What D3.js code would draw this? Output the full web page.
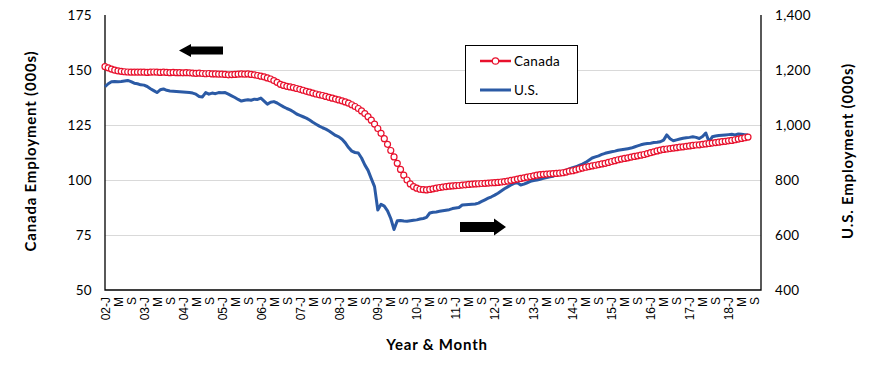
<!DOCTYPE html>
<html lang="en">
<head>
<meta charset="UTF-8">
<title>Canada and U.S. Employment</title>
<script src="https://cdn.jsdelivr.net/npm/d3@7"></script>
<style>
  body { margin: 0; background: #fff; }
  text { font-family: Lato, "Noto Sans", sans-serif; fill: #000; }
</style>
</head>
<body>
<svg id="chart" width="870" height="366"></svg>
<script>
// monthly, Jan 2002 .. Jul 2018
var canada = [
  151.5, 151.0, 150.4, 149.9, 149.6, 149.4, 149.2, 149.1, 149.0, 149.0, 149.0, 149.0,
  149.0, 148.9, 149.0, 149.1, 149.0, 148.9, 149.0, 148.9, 148.8, 148.9, 148.8, 148.8,
  148.7, 148.8, 148.7, 148.6, 148.5, 148.6, 148.4, 148.3, 148.4, 148.2, 148.2, 148.1,
  148.1, 148.0, 147.8, 147.9, 148.0, 148.1, 148.2, 148.1, 148.2, 148.0, 147.8, 147.5,
  147.2, 146.9, 146.4, 145.9, 145.2, 144.4, 143.5, 143.0, 142.6, 142.3, 142.0, 141.6,
  141.2, 140.8, 140.3, 139.9, 139.5, 139.1, 138.7, 138.4, 138.0, 137.6, 137.2, 136.8,
  136.4, 136.0, 135.5, 134.9, 134.2, 133.4, 132.5, 131.4, 130.2, 128.8, 127.2, 125.4,
  123.4, 121.2, 118.8, 116.2, 113.4, 110.5, 107.6, 104.8, 102.2, 100.0, 98.2, 97.0,
  96.3, 95.8, 95.6, 95.5, 95.7, 96.0, 96.3, 96.6, 96.8, 97.0, 97.2, 97.3,
  97.4, 97.5, 97.7, 97.8, 98.0, 98.1, 98.2, 98.3, 98.4, 98.5, 98.6, 98.7,
  98.8, 98.9, 99.1, 99.3, 99.5, 99.8, 100.1, 100.4, 100.7, 101.0, 101.3, 101.6,
  101.9, 102.2, 102.4, 102.6, 102.7, 102.8, 102.9, 103.0, 103.1, 103.3, 103.6, 104.0,
  104.2, 104.6, 105.0, 105.4, 105.8, 106.1, 106.4, 106.7, 107.0, 107.3, 107.6, 108.0,
  108.4, 108.8, 109.2, 109.5, 109.8, 110.1, 110.4, 110.7, 111.0, 111.3, 111.6, 112.0,
  112.4, 112.8, 113.2, 113.6, 113.9, 114.1, 114.3, 114.5, 114.7, 114.9, 115.1, 115.3,
  115.5, 115.7, 115.9, 116.0, 116.2, 116.4, 116.6, 116.8, 117.0, 117.2, 117.4, 117.6,
  117.8, 118.0, 118.3, 118.6, 118.9, 119.2, 119.5
];
var us = [
  1139, 1150, 1157, 1158, 1157, 1158, 1160, 1162, 1158, 1152, 1150, 1146,
  1145, 1140, 1132, 1125, 1118, 1128, 1131, 1126, 1124, 1123, 1122, 1121,
  1120, 1119, 1118, 1116, 1112, 1104, 1102, 1118, 1112, 1116, 1114, 1118,
  1117, 1118, 1112, 1106, 1100, 1093, 1087, 1090, 1092, 1090, 1094, 1093,
  1098, 1087, 1076, 1083, 1085, 1080, 1073, 1066, 1060, 1055, 1048, 1040,
  1035, 1030, 1025, 1018, 1010, 1003, 996, 990, 985, 978, 970, 962,
  957, 948, 935, 918, 905, 900, 898, 880, 855, 835, 805, 776,
  691, 712, 705, 688, 660, 620, 652, 653, 651, 650, 652, 654,
  655, 658, 660, 664, 680, 683, 684, 686, 688, 690, 692, 696,
  698, 700, 709, 710, 711, 712, 713, 716, 722, 728, 734, 739,
  745, 752, 760, 768, 775, 782, 788, 790, 782, 785, 790, 795,
  798, 800, 803, 806, 809, 812, 814, 820, 826, 832, 836, 840,
  845, 848, 853, 858, 864, 872, 880, 884, 888, 893, 897, 900,
  903, 905, 908, 910, 912, 914, 916, 920, 924, 928, 931, 933,
  934, 936, 937, 939, 945, 964, 950, 943, 946, 949, 952, 954,
  955, 957, 955, 951, 958, 971, 939, 957, 960, 962, 963, 964,
  965, 966, 964, 967, 966, 965, 964
];
var firstYear = 2002;
var monthCount = 203;            // category axis runs to Nov 2018
var labelLetters = ['J', 'M', 'S'];
var leftTicks = [50, 75, 100, 125, 150, 175];
var rightTicks = [400, 600, 800, 1000, 1200, 1400];
var gridTicks = [75, 100, 125, 150];
var seriesNames = ['Canada', 'U.S.'];

var months = d3.range(monthCount).map(function(i) {
  return (firstYear + Math.floor(i / 12)) + '-' + (i % 12 + 1);
});

var svg = d3.select('#chart');
var pLeft = 105, pRight = 761, pTop = 15, pBottom = 290;
var red = '#e8112d', blue = '#2b5aa5';

var x = d3.scalePoint().domain(months).range([pLeft, pRight]);
var yL = d3.scaleLinear().domain([50, 175]).range([pBottom, pTop]);
var yR = d3.scaleLinear().domain([400, 1400]).range([pBottom, pTop]);

// gridlines
svg.append('g').selectAll('line')
  .data(gridTicks).enter().append('line')
  .attr('x1', pLeft).attr('x2', pRight)
  .attr('y1', function(d) { return Math.round(yL(d)) + 0.5; })
  .attr('y2', function(d) { return Math.round(yL(d)) + 0.5; })
  .attr('stroke', '#d9d9d9').attr('stroke-width', 1);

// axes
var gl = svg.append('g').attr('transform', 'translate(' + pLeft + ',0)')
  .call(d3.axisLeft(yL).tickValues(leftTicks).tickSize(0).tickPadding(13));
var gr = svg.append('g').attr('transform', 'translate(' + pRight + ',0)')
  .call(d3.axisRight(yR).tickValues(rightTicks).tickSize(0).tickPadding(14)
    .tickFormat(d3.format(',')));
[gl, gr].forEach(function(g) {
  g.select('.domain').remove();
  g.selectAll('text').style('font-family', 'Lato, sans-serif')
    .style('font-size', '13.5px').style('letter-spacing', '0.3px');
});

var labelMonths = months.filter(function(d, i) { return i % 4 === 0 && i <= 200; });
var gx = svg.append('g').attr('transform', 'translate(0,' + pBottom + ')')
  .call(d3.axisBottom(x).tickValues(labelMonths).tickSize(0)
    .tickFormat(function(d) {
      var i = months.indexOf(d);
      var letter = labelLetters[(i % 12) / 4];
      return i % 12 === 0 ? String(firstYear + i / 12).slice(2) + '-' + letter : letter;
    }));
gx.select('.domain').remove();
gx.selectAll('text')
  .attr('transform', 'rotate(-90)')
  .attr('x', -7).attr('y', 0).attr('dy', '0.35em')
  .style('text-anchor', 'end')
  .style('font-family', '"Liberation Sans", Arial, sans-serif').style('font-size', '12px');

// frame lines
svg.append('path')
  .attr('d', 'M' + pLeft + ',' + pTop + 'V' + pBottom + 'H' + pRight + 'V' + pTop)
  .attr('fill', 'none').attr('stroke', '#000').attr('stroke-width', 1.3);

// U.S. line
var usLine = d3.line()
  .x(function(d, i) { return x(months[i]); })
  .y(function(d) { return yR(d); });
svg.append('path').datum(us)
  .attr('d', usLine)
  .attr('fill', 'none').attr('stroke', blue).attr('stroke-width', 3)
  .attr('stroke-linejoin', 'round');

// Canada line + markers
var caLine = d3.line()
  .x(function(d, i) { return x(months[i]); })
  .y(function(d) { return yL(d); });
svg.append('path').datum(canada)
  .attr('d', caLine)
  .attr('fill', 'none').attr('stroke', red).attr('stroke-width', 2);
svg.append('g').selectAll('circle')
  .data(canada).enter().append('circle')
  .attr('cx', function(d, i) { return x(months[i]); })
  .attr('cy', function(d) { return yL(d); })
  .attr('r', 3)
  .attr('fill', '#fff').attr('stroke', red).attr('stroke-width', 1.2);

// axis titles
svg.append('text')
  .attr('transform', 'translate(36,151) rotate(-90)')
  .attr('text-anchor', 'middle')
  .style('font-size', '15px').style('font-weight', 'bold').style('letter-spacing', '0.8px')
  .text('Canada Employment (000s)');
svg.append('text')
  .attr('transform', 'translate(853,151) rotate(-90)')
  .attr('text-anchor', 'middle')
  .style('font-size', '15px').style('font-weight', 'bold').style('letter-spacing', '0.8px')
  .text('U.S. Employment (000s)');
svg.append('text')
  .attr('x', 437).attr('y', 350)
  .attr('text-anchor', 'middle')
  .style('font-size', '15px').style('font-weight', 'bold').style('letter-spacing', '0.8px')
  .text('Year & Month');

// arrows
svg.append('path')
  .attr('d', 'M179,50.5 L191,44 L191,46.5 L223,46.5 L223,54.5 L191,54.5 L191,57 Z')
  .attr('fill', '#000');
svg.append('path')
  .attr('d', 'M506,227 L494,218.5 L494,222 L460,222 L460,232 L494,232 L494,235.5 Z')
  .attr('fill', '#000');

// legend
var lg = svg.append('g');
lg.append('rect').attr('x', 465.5).attr('y', 45.5).attr('width', 112).attr('height', 58)
  .attr('fill', '#fff').attr('stroke', '#000').attr('stroke-width', 1);
lg.append('line').attr('x1', 480).attr('x2', 511).attr('y1', 61).attr('y2', 61)
  .attr('stroke', red).attr('stroke-width', 2.5);
lg.append('circle').attr('cx', 495.5).attr('cy', 61).attr('r', 3.2)
  .attr('fill', '#fff').attr('stroke', red).attr('stroke-width', 1.2);
lg.append('line').attr('x1', 480).attr('x2', 511).attr('y1', 90).attr('y2', 90)
  .attr('stroke', blue).attr('stroke-width', 3);
lg.selectAll('text.lab').data(seriesNames).enter().append('text')
  .attr('class', 'lab')
  .attr('x', 514).attr('y', function(d, i) { return 61 + i * 29; })
  .attr('dy', '0.35em')
  .style('font-size', '13.5px').style('letter-spacing', '0.3px')
  .text(function(d) { return d; });
</script>
</body>
</html>
